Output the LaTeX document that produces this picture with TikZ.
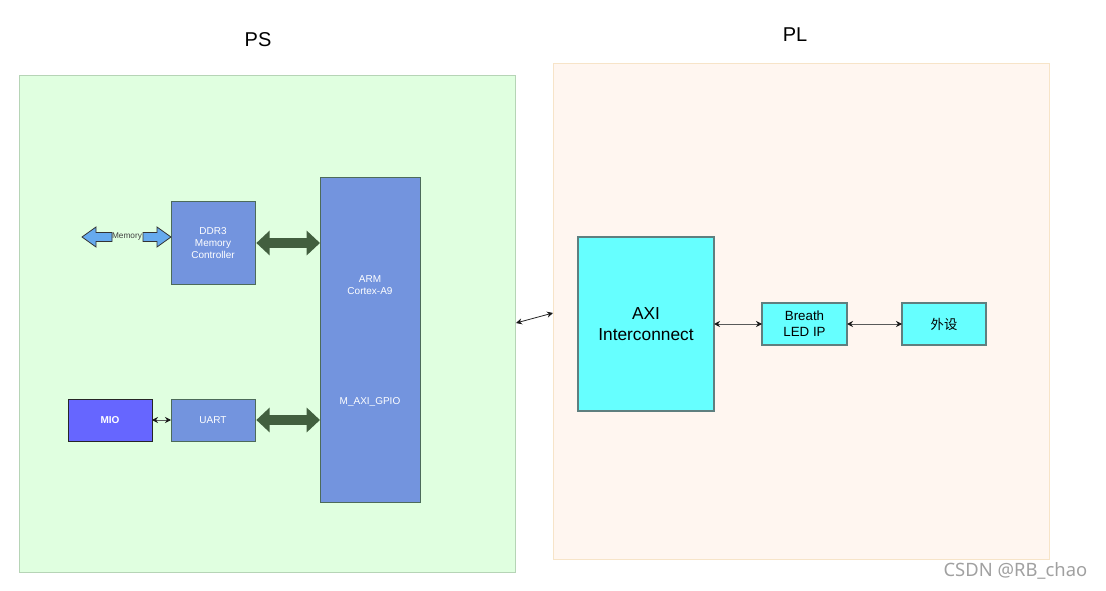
\documentclass[tikz,border=0pt]{standalone}
\usepackage{fontspec}
\setmainfont{Liberation Sans}
\newfontfamily\cjk{Noto Sans CJK SC}
\newfontfamily\wmfont{Noto Sans}
\usetikzlibrary{arrows.meta}
\definecolor{psfill}{RGB}{224,255,224}
\definecolor{psline}{RGB}{182,212,182}
\definecolor{plfill}{RGB}{255,246,240}
\definecolor{plline}{RGB}{247,228,200}
\definecolor{cpublue}{RGB}{115,148,222}
\definecolor{cpuline}{RGB}{77,107,90}
\definecolor{mioblue}{RGB}{102,102,255}
\definecolor{axicyan}{RGB}{102,255,255}
\definecolor{axiline}{RGB}{95,127,127}
\definecolor{busgreen}{RGB}{66,95,63}
\definecolor{memblue}{RGB}{102,170,238}
\definecolor{wmgray}{RGB}{160,160,160}
\tikzset{
  region/.style={draw, line width=0.75pt, inner sep=0pt, outer sep=0pt},
  psblock/.style={draw=cpuline, fill=cpublue, line width=0.75pt, inner sep=0pt, outer sep=0pt, text=white, font=\fontsize{7.5}{9}\selectfont, align=center},
  plblock/.style={draw=axiline, fill=axicyan, line width=0.9pt, inner sep=0pt, outer sep=0pt, align=center},
  bus/.style={draw=busgreen, line width=7.5pt, {Triangle[width=18pt,length=10pt]}-{Triangle[width=18pt,length=10pt]}},
  thinlink/.style={draw=black!65, line width=0.6pt, {Stealth[length=4.5pt,width=4.5pt,color=black!90]}-{Stealth[length=4.5pt,width=4.5pt,color=black!90]}},
  memarrow/.style={draw=black!80, fill=memblue, line width=0.6pt, line join=miter},
  title/.style={font=\fontsize{15}{18}\selectfont}
}
\begin{document}
\begin{tikzpicture}[x=0.75pt,y=-0.75pt]
\useasboundingbox (0,0) rectangle (1106,591);
% regions
\node[region, draw=psline, fill=psfill, minimum width=372pt, minimum height=372pt] (ps) at (267,324) {};
\node[region, draw=plline, fill=plfill, minimum width=372pt, minimum height=371.25pt] (pl) at (801,311.5) {};
\node[title] (pstitle) at (258,40) {PS};
\node[title] (pltitle) at (795,35) {PL};
% PS blocks
\node[psblock, minimum width=63pt, minimum height=62.25pt] (ddr) at (213,243.5) {DDR3\\Memory\\Controller};
\node[psblock, minimum width=75pt, minimum height=243pt] (arm) at (370,340) {};
\node[text=white, font=\fontsize{7.5}{9}\selectfont, align=center] (armlbl) at (370,285) {ARM\\Cortex-A9};
\node[text=white, font=\fontsize{7.5}{9}\selectfont] (gpio) at (370,402) {M\_AXI\_GPIO};
\node[psblock, minimum width=63pt, minimum height=31.5pt] (uart) at (213,420) {UART};
\node[draw=black!85, fill=mioblue, line width=0.75pt, inner sep=0pt, outer sep=0pt, text=white, font=\fontsize{7.5}{9}\selectfont\bfseries, minimum width=63pt, minimum height=31.5pt] (mio) at (110,420) {MIO};
% buses
\coordinate (ddrbus) at (ddr.east |- 0,243);
\coordinate (armbusA) at (arm.west |- 0,243);
\coordinate (uartbus) at (uart.east |- 0,420);
\coordinate (armbusB) at (arm.west |- 0,420);
\draw[bus] ([xshift=1pt]ddrbus) -- (armbusA);
\draw[bus] ([xshift=1pt]uartbus) -- (armbusB);
\draw[thinlink] (mio.east) -- (uart.west);
% memory arrows
\node[font=\fontsize{6.2}{7}\selectfont, text=black!75, inner sep=0pt] (memlbl) at (127,237) {Memory};
\draw[memarrow] (82,237) -- (96,227) -- (96,232.5) -- (112,232.5) -- (112,241.5) -- (96,241.5) -- (96,247) -- cycle;
\draw[memarrow] (171,237) -- (157,227) -- (157,232.5) -- (143,232.5) -- (143,241.5) -- (157,241.5) -- (157,247) -- cycle;
% PL blocks
\node[plblock, minimum width=102pt, minimum height=130.5pt, font=\fontsize{13}{16}\selectfont] (axi) at (646,324) {AXI\\Interconnect};
\node[plblock, minimum width=63.75pt, minimum height=31.5pt, font=\fontsize{10}{12}\selectfont] (led) at (804.5,324) {Breath\\LED IP};
\node[plblock, minimum width=63pt, minimum height=31.5pt, font=\cjk\fontsize{10}{12}\selectfont] (periph) at (944,324) {外设};
\draw[thinlink] (axi.east) -- (led.west);
\draw[thinlink] (led.east) -- (periph.west);
% PS-PL link
\coordinate (psedge) at (516,323);
\coordinate (pledge) at (553,313);
\draw[thinlink, draw=black!85] (psedge) -- (pledge);
% watermark
\node[text=wmgray, font=\wmfont\fontsize{13.8}{16}\selectfont, anchor=east] (wm) at (1092,571) {CSDN @RB\_chao};
\end{tikzpicture}
\end{document}
